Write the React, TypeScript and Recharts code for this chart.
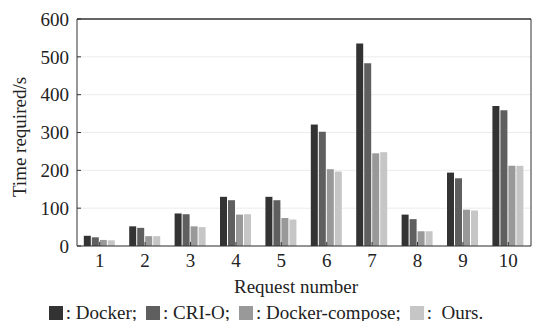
import { BarChart, Bar, XAxis, YAxis, CartesianGrid, Legend, ReferenceLine } from 'recharts';

const requests = ['1', '2', '3', '4', '5', '6', '7', '8', '9', '10'];
const docker = [27, 52, 86, 130, 130, 321, 535, 83, 194, 370];
const crio = [23, 48, 84, 121, 121, 302, 483, 71, 179, 359];
const compose = [16, 26, 52, 83, 74, 203, 245, 39, 96, 212];
const ours = [15, 26, 50, 84, 70, 197, 248, 39, 94, 212];

const yTicks = [0, 100, 200, 300, 400, 500, 600];

const series = [
  { key: 'docker', name: 'Docker;', color: '#333333' },
  { key: 'crio', name: 'CRI-O;', color: '#5f5f5f' },
  { key: 'compose', name: 'Docker-compose;', color: '#999999' },
  { key: 'ours', name: ' Ours.', color: '#c6c6c6' },
];

const data = requests.map((r, i) => ({
  name: r,
  docker: docker[i],
  crio: crio[i],
  compose: compose[i],
  ours: ours[i],
}));

const AXIS = '#333333';
const tickStyle = { fontSize: 19, fontFamily: 'Liberation Serif', fill: '#222' };

// x title + legend, both as html under the axis
function Footer() {
  return (
    <div style={{ fontFamily: "'Liberation Serif'", fontSize: 19, color: '#222' }}>
      <div style={{ height: 30, lineHeight: '30px', textAlign: 'center', paddingLeft: 60 }}>Request number</div>
      <div style={{ display: 'flex', justifyContent: 'center', alignItems: 'center', gap: 9, height: 22 }}>
        {series.map((s) => (
          <span key={s.key} style={{ display: 'flex', alignItems: 'center' }}>
            <span style={{ width: 14, height: 14, background: s.color, display: 'inline-block', marginRight: 3 }} />
            <span style={{ whiteSpace: 'pre' }}>: {s.name}</span>
          </span>
        ))}
      </div>
    </div>
  );
}

export default function App() {
  return (
    <div style={{ margin: -8, width: 549, height: 329, background: '#fff', position: 'relative' }}>
      <div
        style={{
          position: 'absolute',
          left: 20,
          top: 137,
          transform: 'translate(-50%, -50%) rotate(-90deg)',
          whiteSpace: 'nowrap',
          fontFamily: "'Liberation Serif'",
          fontSize: 19,
          color: '#222',
        }}
      >
        Time required/s
      </div>
      <BarChart width={549} height={329} data={data} margin={{ top: 19, right: 17, left: 0, bottom: 5 }} barCategoryGap="15%" barGap={1}>
        <CartesianGrid vertical={false} stroke="#ececec" />
        <XAxis dataKey="name" height={26} stroke={AXIS} tickSize={-4} tickMargin={12} tick={tickStyle} />
        <YAxis width={77} domain={[0, 600]} ticks={yTicks} stroke={AXIS} tickSize={-4} tickMargin={12} tick={tickStyle} />
        <YAxis yAxisId="right" orientation="right" width={1} tick={false} tickLine={false} stroke={AXIS} domain={[0, 600]} />
        <Legend verticalAlign="bottom" height={52} content={() => <Footer />} />
        {series.map((s) => (
          <Bar key={s.key} dataKey={s.key} fill={s.color} isAnimationActive={false} />
        ))}
        <ReferenceLine y={600} stroke={AXIS} strokeWidth={1.5} ifOverflow="visible" />
      </BarChart>
    </div>
  );
}
